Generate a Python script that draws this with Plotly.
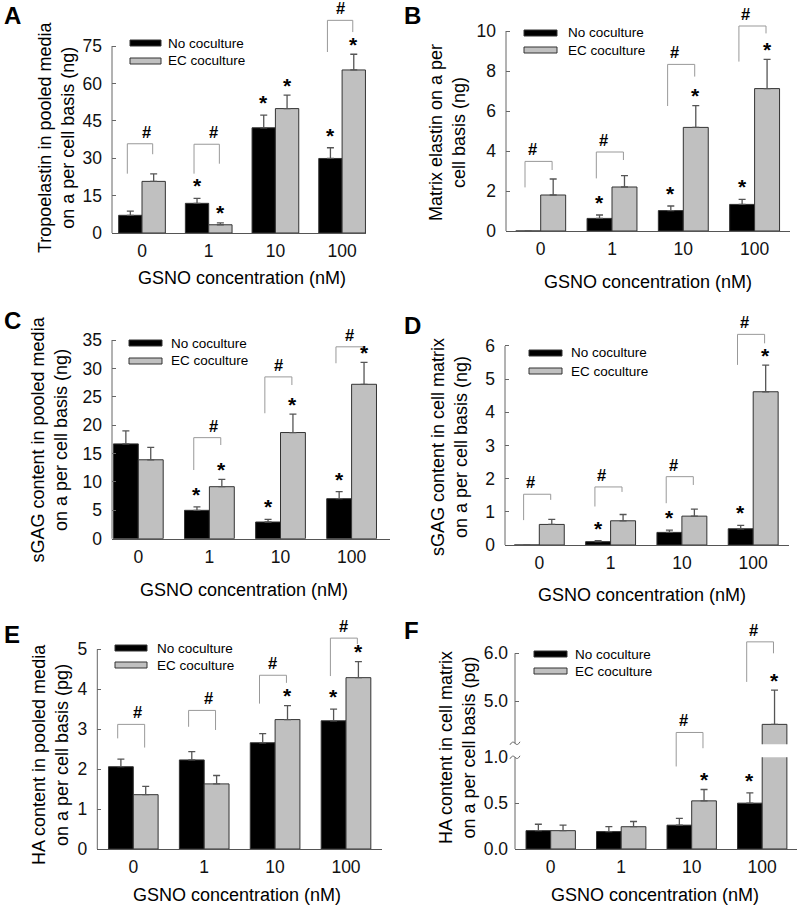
import plotly.graph_objects as go

W, H = 800, 910
FONT = "Liberation Sans, Arial, sans-serif"

categories = ["0", "1", "10", "100"]
series_names = ["No coculture", "EC coculture"]
series_colors = ["#000000", "#c0c0c0"]

# ---------------- data ----------------
A_none = [7.1, 11.9, 42.2, 29.9]
A_none_sem = [1.7, 2.0, 5.1, 4.3]
A_ec = [20.7, 3.3, 49.9, 65.4]
A_ec_sem = [3.0, 0.8, 5.4, 6.3]
A_star_none = [1, 2, 3]
A_star_ec = [1, 2, 3]
A_brackets = [(0, 35.8, 23.8, 31.6), (1, 35.6, 23.8, 27.8), (3, 85.3, 72.6, 80.6)]
A_ticks = [0, 15, 30, 45, 60, 75]

B_none = [0.0, 0.63, 1.02, 1.33]
B_none_sem = [0.0, 0.17, 0.23, 0.25]
B_ec = [1.8, 2.2, 5.18, 7.12]
B_ec_sem = [0.8, 0.57, 1.09, 1.46]
B_star_none = [1, 2, 3]
B_star_ec = [2, 3]
B_brackets = [(0, 3.48, 2.18, 3.05), (1, 3.95, 2.63, 3.55), (2, 8.33, 6.25, 7.72), (3, 10.25, 8.47, 9.88)]
B_ticks = [0, 2, 4, 6, 8, 10]

C_none = [16.7, 5.0, 2.94, 7.05]
C_none_sem = [2.3, 0.6, 0.46, 1.23]
C_ec = [13.9, 9.16, 18.7, 27.2]
C_ec_sem = [2.2, 1.29, 3.26, 3.86]
C_star_none = [1, 2, 3]
C_star_ec = [1, 2, 3]
C_brackets = [(1, 17.8, 12.1, 16.5), (2, 28.5, 22.1, 27.07), (3, 33.8, 30.9, 32.6)]
C_ticks = [0, 5, 10, 15, 20, 25, 30, 35]

D_none = [0.0, 0.1, 0.38, 0.49]
D_none_sem = [0.0, 0.03, 0.07, 0.1]
D_ec = [0.62, 0.73, 0.87, 4.62]
D_ec_sem = [0.15, 0.19, 0.21, 0.8]
D_star_none = [1, 2, 3]
D_star_ec = [3]
D_brackets = [(0, 1.53, 0.75, 1.36), (1, 1.75, 1.16, 1.6), (2, 2.06, 1.26, 1.81), (3, 6.35, 5.43, 6.08)]
D_ticks = [0, 1, 2, 3, 4, 5, 6]

E_none = [2.06, 2.23, 2.66, 3.21]
E_none_sem = [0.19, 0.21, 0.23, 0.29]
E_ec = [1.36, 1.63, 3.24, 4.29]
E_ec_sem = [0.21, 0.21, 0.35, 0.4]
E_star_none = [3]
E_star_ec = [2, 3]
E_brackets = [(0, 3.12, 2.77, 2.54), (1, 3.47, 3.06, 2.98), (2, 4.35, 3.64, 4.16), (3, 5.28, 4.33, 5.13)]
E_ticks = [0, 1, 2, 3, 4, 5]

F_none = [0.2, 0.19, 0.26, 0.5]
F_none_sem = [0.07, 0.053, 0.073, 0.112]
F_ec = [0.2, 0.243, 0.525, 4.51]
F_ec_sem = [0.06, 0.057, 0.124, 0.72]
F_star_none = [3]
F_star_ec = [2, 3]
F_brackets = [(2, 4.34, 0.90, 4.01), (3, 6.24, 5.40, 6.0)]
F_ticks_low = [0.0, 0.5, 1.0]
F_ticks_up = [5.0, 6.0]

ylabels = {
    "A": ["Tropoelastin in pooled media", "on a per cell basis (ng)"],
    "B": ["Matrix elastin on a per", "cell basis (ng)"],
    "C": ["sGAG content in pooled media", "on a per cell basis (ng)"],
    "D": ["sGAG content in cell matrix", "on a per cell basis (ng)"],
    "E": ["HA content in pooled media", "on a per cell basis (pg)"],
    "F": ["HA content in cell matrix", "on a per cell basis (pg)"],
}
xlabel = "GSNO concentration (nM)"

# ---------------- layout geometry (pixels) ----------------
GEOM = {
    "A": dict(xl=112, xr=366, c0=142, step=66.7, yz=233, ppu=2.493, ytop=3,
              letter=(2, 15), ytitle=(56.5, 137.5), xtitle=(241.5, 278), leg=(130, 161, 43, 61, 166)),
    "B": dict(xl=506, xr=790, c0=540.7, step=71.3, yz=231, ppu=20.0, ytop=3,
              letter=(402, 15), ytitle=(447, 133), xtitle=(648, 282), leg=(524, 557, 33, 50, 566)),
    "C": dict(xl=112, xr=390, c0=138.3, step=71.1, yz=538.7, ppu=5.677, ytop=306,
              letter=(2, 320), ytitle=(49, 439.5), xtitle=(243.5, 590), leg=(129, 162, 343, 361, 169)),
    "D": dict(xl=505, xr=789, c0=539.3, step=71.3, yz=545, ppu=33.17, ytop=306,
              letter=(402, 325), ytitle=(449, 447), xtitle=(642, 595), leg=(529, 562, 353, 371, 569)),
    "E": dict(xl=97.3, xr=381.7, c0=133.3, step=70.9, yz=849, ppu=39.94, ytop=616,
              letter=(2, 634), ytitle=(50, 755), xtitle=(236.5, 895), leg=(115, 147, 648, 665, 155)),
    "F": dict(xl=515, xr=796.7, c0=550.7, step=70.5, yz=849, ppu=91.7, ytop=757.3,
              up_ref=5.0, up_ref_px=701, up_ppu=47.7, up_bot=744.3, up_top=612,
              letter=(402, 630), ytitle=(457, 748), xtitle=(655, 895), leg=(534, 567, 654, 671, 573)),
}

PANELS = [
    ("A", A_none, A_none_sem, A_ec, A_ec_sem, A_star_none, A_star_ec, A_brackets, A_ticks),
    ("B", B_none, B_none_sem, B_ec, B_ec_sem, B_star_none, B_star_ec, B_brackets, B_ticks),
    ("C", C_none, C_none_sem, C_ec, C_ec_sem, C_star_none, C_star_ec, C_brackets, C_ticks),
    ("D", D_none, D_none_sem, D_ec, D_ec_sem, D_star_none, D_star_ec, D_brackets, D_ticks),
    ("E", E_none, E_none_sem, E_ec, E_ec_sem, E_star_none, E_star_ec, E_brackets, E_ticks),
    ("F", F_none, F_none_sem, F_ec, F_ec_sem, F_star_none, F_star_ec, F_brackets, F_ticks_low),
]


def pxx(x):
    return x / W


def pyy(y):
    return 1 - y / H


xidx = list(range(len(categories)))
BAR_HALF = 0.175
LEG_L, LEG_R = -0.22, 0.16
STAR_SHIFT = [12.5, 10.0]
TICK_SIZE = 17.5
TITLE_SIZE = 18

fig = go.Figure()
shapes = []
annos = []
layout_axes = {}


def val_px(key, v):
    g = GEOM[key]
    if key == "F" and v > 2.5:
        return g["up_ref_px"] - (v - g["up_ref"]) * g["up_ppu"]
    return g["yz"] - v * g["ppu"]


def cat_px(key, c):
    g = GEOM[key]
    return g["c0"] + c * g["step"]


def add_bars(vals_list, xa, ya):
    for (vals, sems), color, name in zip(vals_list, series_colors, series_names):
        fig.add_trace(go.Bar(
            x=xidx, y=vals, name=name, showlegend=False, hoverinfo="skip",
            marker=dict(color=color, line=dict(color="#333333", width=1)),
            error_y=dict(type="data", array=sems, arrayminus=[0] * len(sems), symmetric=False,
                         color="#555555", thickness=1.3, width=3.5),
            xaxis=xa, yaxis=ya,
        ))


for k, (key, none, none_sem, ec, ec_sem, star_none, star_ec, brackets, ticks) in enumerate(PANELS, start=1):
    g = GEOM[key]
    xa = "x" if k == 1 else f"x{k}"
    ya = "y" if k == 1 else f"y{k}"
    xname = "xaxis" if k == 1 else f"xaxis{k}"
    yname = "yaxis" if k == 1 else f"yaxis{k}"
    add_bars([(none, none_sem), (ec, ec_sem)], xa, ya)

    layout_axes[xname] = dict(
        domain=[pxx(g["xl"]), pxx(g["xr"])],
        range=[(g["xl"] - g["c0"]) / g["step"], (g["xr"] - g["c0"]) / g["step"]],
        anchor=ya, tickvals=xidx, ticktext=categories, ticks="",
        showline=True, linecolor="#555555", linewidth=1, showgrid=False, zeroline=False,
        tickfont=dict(size=TICK_SIZE, color="#111111", family=FONT), ticklabelstandoff=2,
    )
    layout_axes[yname] = dict(
        domain=[pyy(g["yz"]), pyy(g["ytop"])],
        range=[0, (g["yz"] - g["ytop"]) / g["ppu"]],
        anchor=xa, tickvals=ticks, ticks="inside", ticklen=4, tickcolor="#666666",
        showline=False, showgrid=False, zeroline=False,
        tickfont=dict(size=TICK_SIZE, color="#111111", family=FONT), ticklabelstandoff=9,
    )
    if key == "F":
        layout_axes[yname]["tickformat"] = ".1f"
        layout_axes[yname]["ticklabelstandoff"] = 6
        layout_axes[yname]["range"] = [0, 1.0]
    # y axis line
    shapes.append(dict(type="line", xref="paper", yref="paper",
                       x0=pxx(g["xl"]), x1=pxx(g["xl"]),
                       y0=pyy(g["yz"]), y1=pyy(val_px(key, ticks[-1])),
                       line=dict(color="#666666", width=1)))

    # upper segment of broken axis in panel F
    if key == "F":
        yu = "y7"
        add_bars([(none, none_sem), (ec, ec_sem)], xa, yu)
        layout_axes["yaxis7"] = dict(
            domain=[pyy(g["up_bot"]), pyy(g["up_top"])],
            range=[g["up_ref"] - (g["up_bot"] - g["up_ref_px"]) / g["up_ppu"],
                   g["up_ref"] + (g["up_ref_px"] - g["up_top"]) / g["up_ppu"]],
            anchor=xa, tickvals=F_ticks_up, tickformat=".1f", ticks="inside", ticklen=4,
            tickcolor="#666666", showline=False, showgrid=False, zeroline=False,
            tickfont=dict(size=TICK_SIZE, color="#111111", family=FONT), ticklabelstandoff=6,
        )
        shapes.append(dict(type="line", xref="paper", yref="paper",
                           x0=pxx(g["xl"]), x1=pxx(g["xl"]),
                           y0=pyy(g["up_bot"] - 1), y1=pyy(val_px(key, F_ticks_up[-1])),
                           line=dict(color="#666666", width=1)))
        # break marks
        for yb in (g["up_bot"] - 1, g["ytop"]):
            x0 = g["xl"]
            path = (f"M {pxx(x0-5)},{pyy(yb+1.5)} "
                    f"Q {pxx(x0-2.5)},{pyy(yb-3)} {pxx(x0)},{pyy(yb)} "
                    f"Q {pxx(x0+2.5)},{pyy(yb+3)} {pxx(x0+5)},{pyy(yb-1.5)}")
            shapes.append(dict(type="path", xref="paper", yref="paper", path=path,
                               line=dict(color="#666666", width=1)))

    # stars
    for s, (lst, vals, sems) in enumerate([(star_none, none, none_sem), (star_ec, ec, ec_sem)]):
        off = -BAR_HALF if s == 0 else BAR_HALF
        for c in lst:
            top = vals[c] + sems[c]
            yref = ya
            if key == "F" and top > 2.5:
                yref = "y7"
            annos.append(dict(x=c + off, y=top, xref=xa, yref=yref, text="<b>*</b>",
                              showarrow=False, yanchor="middle", yshift=STAR_SHIFT[s],
                              font=dict(size=21, color="#000000", family=FONT)))

    # significance brackets (#)
    for (c, top, lb, rb) in brackets:
        xl_ = pxx(cat_px(key, c + LEG_L))
        xr_ = pxx(cat_px(key, c + LEG_R))
        yt = pyy(val_px(key, top))
        yl = pyy(val_px(key, lb))
        yr = pyy(val_px(key, rb))
        bpath = f"M {xl_},{yl} L {xl_},{yt} L {xr_},{yt} L {xr_},{yr}"
        shapes.append(dict(type="path", xref="paper", yref="paper", path=bpath,
                           line=dict(color="#999999", width=1)))
        annos.append(dict(x=(xl_ + xr_) / 2, y=yt, xref="paper", yref="paper", text="<b>#</b>",
                          showarrow=False, yanchor="middle", yshift=12,
                          font=dict(size=16.5, color="#000000", family=FONT)))

    # legend (drawn)
    lx0, lx1, ly0, ly1, ltx = g["leg"]
    for yy, color, name in zip((ly0, ly1), series_colors, series_names):
        shapes.append(dict(type="rect", xref="paper", yref="paper",
                           x0=pxx(lx0), x1=pxx(lx1), y0=pyy(yy - 3), y1=pyy(yy + 3),
                           fillcolor=color, line=dict(color="#333333", width=1)))
        annos.append(dict(x=pxx(ltx), y=pyy(yy), xref="paper", yref="paper", text=name,
                          showarrow=False, xanchor="left", yanchor="middle",
                          font=dict(size=13.5, color="#000000", family=FONT)))

    # panel letter
    lx, ly = g["letter"]
    annos.append(dict(x=pxx(lx), y=pyy(ly), xref="paper", yref="paper", text=f"<b>{key}</b>",
                      showarrow=False, xanchor="left", yanchor="middle",
                      font=dict(size=24, color="#000000", family=FONT)))
    # axis titles
    tx, ty = g["ytitle"]
    annos.append(dict(x=pxx(tx), y=pyy(ty), xref="paper", yref="paper",
                      text="<br>".join(ylabels[key]), textangle=-90, showarrow=False,
                      xanchor="center", yanchor="middle",
                      font=dict(size=TITLE_SIZE, color="#000000", family=FONT)))
    tx, ty = g["xtitle"]
    annos.append(dict(x=pxx(tx), y=pyy(ty), xref="paper", yref="paper", text=xlabel,
                      showarrow=False, xanchor="center", yanchor="middle",
                      font=dict(size=TITLE_SIZE, color="#000000", family=FONT)))

fig.update_layout(
    width=W, height=H, margin=dict(l=0, r=0, t=0, b=0, autoexpand=False),
    paper_bgcolor="white", plot_bgcolor="white",
    barmode="group", bargap=0.3, bargroupgap=0,
    font=dict(family=FONT, color="#000000"),
    shapes=shapes, annotations=annos, showlegend=False, hovermode=False,
    **layout_axes,
)

fig.write_html("out.html", config={"displayModeBar": False, "staticPlot": True},
               post_script="document.body.style.margin='0';document.body.style.overflow='hidden';")
